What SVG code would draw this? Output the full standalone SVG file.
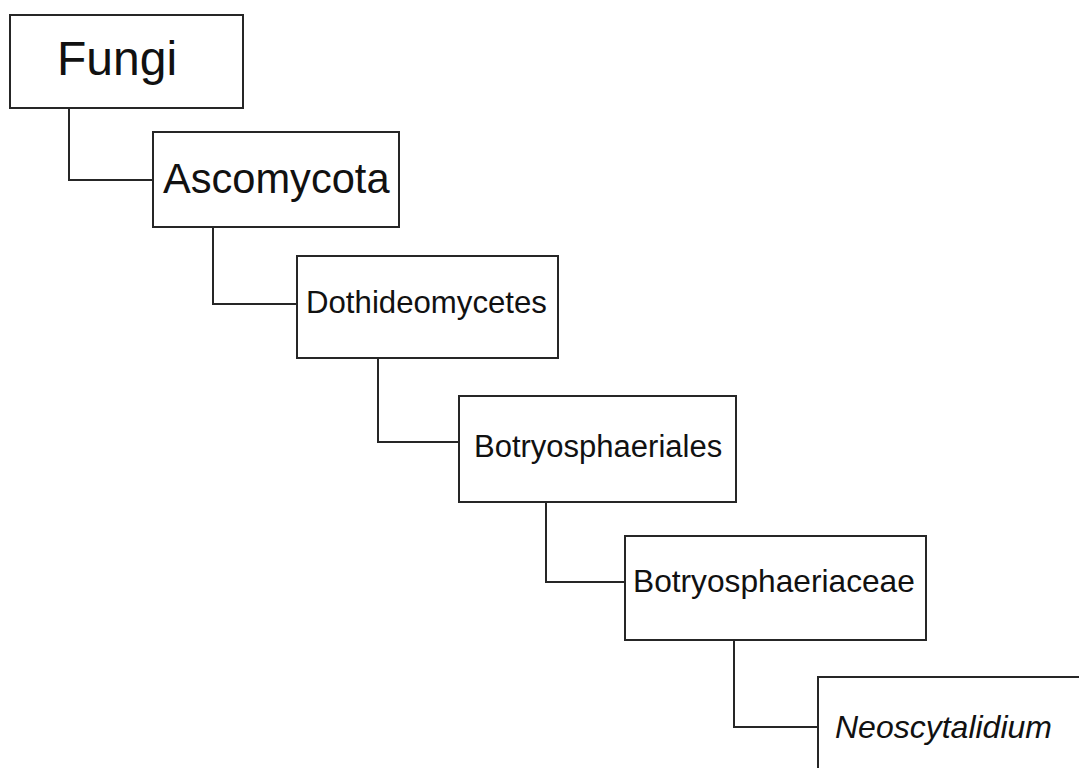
<svg xmlns="http://www.w3.org/2000/svg" width="1079" height="768" viewBox="0 0 1079 768">
<style>
.box{fill:#fff;stroke:#262626;stroke-width:2}
.lbl{font-family:"Liberation Sans",Arial,sans-serif;fill:#111}
.edge{fill:none;stroke:#262626;stroke-width:2}
</style>
<rect x="0" y="0" width="1079" height="768" fill="#fff"/>
<g id="connectors">
<path class="edge" d="M69 108 V180 H153"/>
<path class="edge" d="M213 227 V304 H297"/>
<path class="edge" d="M378 358 V442 H459"/>
<path class="edge" d="M546 502 V582 H625"/>
<path class="edge" d="M734 640 V727 H818"/>
</g>
<g id="fungi">
<rect class="box" x="10" y="15" width="233" height="93"/>
<text class="lbl" x="57" y="75" font-size="48">Fungi</text>
</g>
<g id="ascomycota">
<rect class="box" x="153" y="132" width="246" height="95"/>
<text class="lbl" x="163" y="193" font-size="41.6">Ascomycota</text>
</g>
<g id="dothideomycetes">
<rect class="box" x="297" y="256" width="261" height="102"/>
<text class="lbl" x="306" y="313" font-size="31.2">Dothideomycetes</text>
</g>
<g id="botryosphaeriales">
<rect class="box" x="459" y="396" width="277" height="106"/>
<text class="lbl" x="474" y="457" font-size="31">Botryosphaeriales</text>
</g>
<g id="botryosphaeriaceae">
<rect class="box" x="625" y="536" width="301" height="104"/>
<text class="lbl" x="633" y="592" font-size="31.7">Botryosphaeriaceae</text>
</g>
<g id="neoscytalidium">
<rect class="box" x="818" y="677" width="300" height="120"/>
<text class="lbl" x="835" y="738" font-size="32" font-style="italic">Neoscytalidium</text>
</g>
</svg>
